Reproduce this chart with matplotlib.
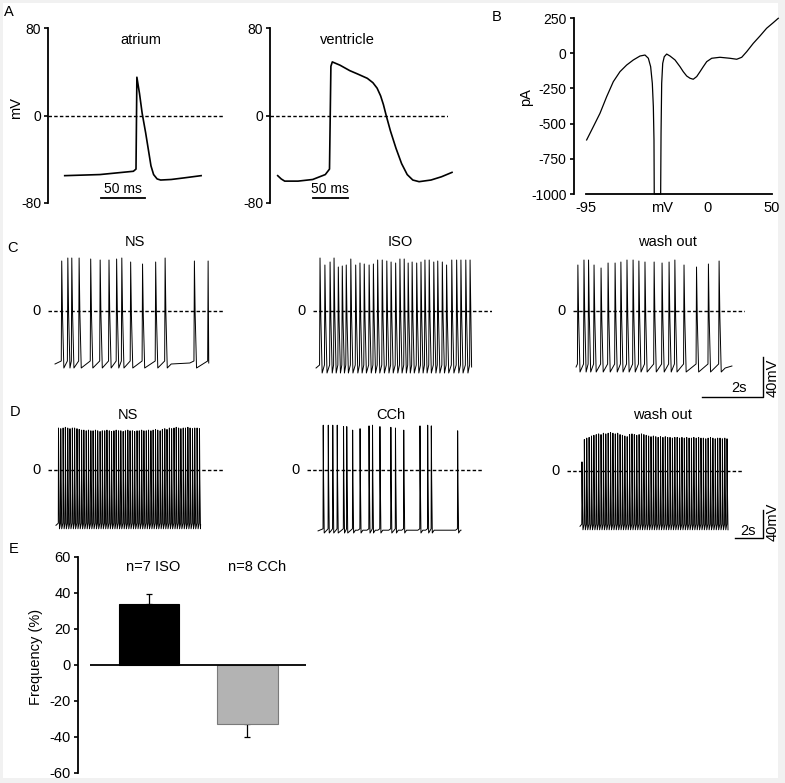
import numpy as np
import matplotlib
matplotlib.use("Agg")
import matplotlib.pyplot as plt
from matplotlib.patches import Rectangle

plt.rcParams["font.family"] = ["Liberation Sans", "DejaVu Sans"]
plt.rcParams["font.size"] = 9
plt.rcParams["axes.unicode_minus"] = False

# ---- data ----
# A: single action potentials (time in ms, voltage in mV)
atrium_t = [19, 59, 97, 100, 101, 104, 107, 111, 114, 117, 120, 124, 128, 140, 155, 174]
atrium_v = [-55, -54, -51, -49, 35, 20, 2, -16, -31, -46, -54, -58, -59, -58.5, -57, -55]
ventricle_t = [11, 16, 21, 40, 61, 79, 85, 87, 89, 100, 114, 125, 139, 147, 153,
               158, 162, 166, 172, 180, 188, 196, 204, 213, 230, 245, 260]
ventricle_v = [-55, -58, -60, -60, -58.5, -54, -49, 45, 49, 46, 41, 38, 34, 30, 25,
               18, 10, 0, -14, -30, -44, -54, -59, -60.5, -59, -56, -52]

# B: I-V relation (mV, pA)
iv_mv = [-94.5, -89.3, -84.1, -78.9, -73.7, -68.5, -63.3, -58.1, -52.9, -49.0,
         -46.4, -44.6, -43.3, -42.5, -42.0, -41.8, -36.8, -36.5, -36.0, -35.2,
         -34.0, -32.1, -29.5, -25.6, -21.7, -19.2, -16.5, -13.9, -11.4, -8.7,
         -6.1, -3.6, -0.9, 3.0, 9.4, 17.2, 22.5, 26.4, 30.3, 35.4, 40.6, 45.8,
         51.0, 54.9]
iv_pa = [-616, -522, -427, -309, -202, -131, -84, -48, -20, -13,
         -36, -96, -214, -380, -616, -1000, -1000, -569, -214, -72,
         -25, -6, -20, -48, -96, -131, -162, -178, -185, -166,
         -131, -96, -60, -36, -29, -36, -43, -29, 11, 70, 122, 177,
         217, 248]

# C: spike times (s) and peak voltages (mV)
c_ns_spikes = [0.45, 0.65, 0.78, 1.02, 1.40, 1.71, 2.00, 2.25, 2.42, 2.71,
               3.10, 3.53, 3.84, 4.80, 5.25]
c_ns_peaks = [50, 53, 53, 53, 52, 51, 51, 52, 53, 49, 47, 49, 53, 50, 50]
c_iso_spikes = [0.23, 0.39, 0.56, 0.69, 0.83, 0.96, 1.09, 1.24, 1.40, 1.54,
                1.68, 1.84, 1.98, 2.12, 2.27, 2.42, 2.56, 2.71, 2.85, 2.99,
                3.12, 3.25, 3.40, 3.54, 3.67, 3.81, 3.96, 4.09, 4.24, 4.38,
                4.55, 4.71, 4.85, 5.01, 5.15]
c_iso_peaks = [53, 46, 49, 53, 44, 45, 46, 52, 46, 48, 47, 46, 47, 51, 51, 50, 49, 48,
               52, 52, 48, 49, 48, 49, 51, 51, 49, 50, 49, 46, 51, 51, 51, 51, 51]
c_wash_spikes = [0.16, 0.36, 0.51, 0.69, 0.92, 1.15, 1.38, 1.57, 1.77, 1.97,
                 2.16, 2.36, 2.66, 2.92, 3.15, 3.34, 3.64, 4.05, 4.44, 4.79]
c_wash_peaks = [46, 51, 51, 46, 43, 48, 48, 49, 51, 51, 50, 49, 49, 48, 49, 51, 46, 44, 47, 50]

# D
d_ns_spikes = [0.75, 0.91, 1.08, 1.24, 1.41, 1.57, 1.74, 1.90, 2.07, 2.23,
               2.40, 2.56, 2.73, 2.89, 3.06, 3.22, 3.39, 3.55, 3.72, 3.88,
               4.05, 4.21, 4.38, 4.54, 4.71, 4.87, 5.04, 5.20, 5.37, 5.53,
               5.70, 5.86, 6.03, 6.19, 6.36, 6.52, 6.69, 6.85, 7.02, 7.18,
               7.35, 7.51, 7.68, 7.84, 8.01, 8.17, 8.34, 8.50, 8.67, 8.83,
               9.00, 9.16, 9.33, 9.49, 9.66, 9.82, 9.99, 10.15, 10.32, 10.48,
               10.65, 10.82]
d_ns_peaks = [60, 59, 60, 61, 60, 59, 60, 60, 59, 58,
              57, 57, 56, 57, 56, 56, 57, 56, 55, 56,
              56, 57, 56, 55, 56, 57, 56, 56, 55, 56,
              57, 56, 56, 55, 56, 56, 57, 56, 56, 57,
              56, 57, 58, 57, 56, 58, 59, 58, 60, 59,
              60, 61, 60, 59, 60, 60, 61, 60, 59, 60,
              60, 59]
d_cch_spikes = [1.16, 1.52, 1.84, 2.16, 2.61, 2.84, 3.26, 3.79, 4.43, 4.68,
                5.21, 5.99, 6.32, 6.91, 8.07, 8.62, 8.88, 10.76]
d_cch_peaks = [64, 64, 64, 64, 62, 62, 57, 59, 63, 64, 62, 61, 60, 57, 63, 64, 63, 56]
d_wash_spikes = [1.07, 1.24, 1.41, 1.58, 1.75, 1.92, 2.09, 2.26, 2.43, 2.60,
                 2.77, 2.94, 3.11, 3.28, 3.45, 3.62, 3.79, 3.96, 4.13, 4.30,
                 4.47, 4.64, 4.81, 4.98, 5.15, 5.32, 5.49, 5.66, 5.83, 6.00,
                 6.17, 6.34, 6.51, 6.68, 6.85, 7.02, 7.19, 7.36, 7.53, 7.70,
                 7.87, 8.04, 8.21, 8.38, 8.55, 8.72, 8.89, 9.06, 9.23, 9.40,
                 9.57, 9.74, 9.91, 10.08, 10.25, 10.42, 10.59, 10.76, 10.93, 11.10,
                 11.27, 11.43]
d_wash_peaks = [13, 45, 47, 48, 50, 51, 52, 53, 52, 54,
                53, 54, 55, 54, 53, 54, 52, 51, 50, 49,
                52, 53, 52, 51, 52, 53, 52, 51, 50, 49,
                50, 49, 48, 49, 48, 49, 48, 48, 47, 48,
                48, 47, 48, 47, 48, 47, 47, 48, 47, 48,
                47, 47, 46, 47, 48, 47, 46, 47, 47, 46,
                47, 46]

# E: frequency change
e_labels = ["n=7 ISO", "n=8 CCh"]
e_values = [34, -33]
e_errors = [5.5, 7]

W, H = 785, 783
fig = plt.figure(figsize=(W / 100, H / 100), dpi=100, facecolor="#f1f1f1")
fig.patches.append(Rectangle((3 / W, 5 / H), 775 / W, 775 / H, transform=fig.transFigure,
                             facecolor="white", edgecolor="none", zorder=-10))


def px_ax(x0, y0, x1, y1):
    return fig.add_axes([x0 / W, 1 - y1 / H, (x1 - x0) / W, (y1 - y0) / H])


def ftext(x, y, s, **kw):
    fig.text(x / W, 1 - y / H, s, ha=kw.pop("ha", "center"), va=kw.pop("va", "center"), **kw)


DASH = (0, (2.5, 1.6))


def spike_trace(spikes, peaks, t0, t1, trough, thresh):
    # spike shape: threshold -> peak -> fast repolarisation -> trough,
    # then slow depolarisation up to the next spike
    t = [t0]
    v = [thresh - 3]
    nxt = list(spikes[1:]) + [t1 + 1]
    for ts, pk, tn in zip(spikes, peaks, nxt):
        t += [ts - 0.015, ts, ts + 0.025, ts + 0.07]
        v += [thresh, pk, 0.5 * (pk + trough), trough]
        if tn - ts > 0.5:
            t += [ts + 0.2, tn - 0.15]
            v += [trough + 4, thresh - 2]
    t = np.array(t)
    v = np.array(v)
    keep = t <= t1
    t, v = list(t[keep]), list(v[keep])
    if t[-1] < t1:
        t.append(t1)
        v.append(thresh - 2)
    return t, v


def trace_panel(x0, x1, ytop, ybot, yz, ps, pm, tv):
    ax = px_ax(x0, ytop, x1, ybot)
    ax.set_xlim(0, (x1 - x0) / ps)
    ax.set_ylim(-(ybot - yz) / pm, (yz - ytop) / pm)
    ax.axis("off")
    ax.axhline(0, color="black", lw=1.0, ls=DASH)
    ax.plot(tv[0], tv[1], color="black", lw=0.7, clip_on=False)
    ax.annotate("0", (0, 0), xytext=(-5, 0), textcoords="offset points",
                ha="right", va="center", fontsize=10.5)
    return ax


# ---- A ----
for x0, x1, pxms, t, v, sb, title, tx in [
        (48, 225, 0.88, atrium_t, atrium_v, 60, "atrium", 141),
        (270, 448, 0.70, ventricle_t, ventricle_v, 61, "ventricle", 347)]:
    ax = px_ax(x0, 28, x1, 203)
    ax.set_xlim(0, (x1 - x0) / pxms)
    ax.set_ylim(-80, 80)
    for s in ["top", "right", "bottom"]:
        ax.spines[s].set_visible(False)
    ax.spines["left"].set_linewidth(1.3)
    ax.set_xticks([])
    ax.set_yticks([-80, 0, 80])
    ax.tick_params(axis="y", length=3, width=1.2, pad=2, labelsize=10)
    ax.axhline(0, color="black", lw=1.0, ls=DASH)
    ax.plot(t, v, color="black", lw=1.2, clip_on=False)
    ax.plot([sb, sb + 50], [-75.4, -75.4], color="black", lw=1.3)
    ax.text(sb + 25, -67.5, "50 ms", ha="center", va="center", fontsize=10)
    ftext(tx, 40, title, fontsize=10.5)

ftext(16, 108, "mV", rotation=90, fontsize=10.5)

# ---- B ----
axb = px_ax(586, 18, 772, 194)
axb.plot(iv_mv, iv_pa, color="black", lw=0.9, clip_on=False)
axb.set_xlim(-95, 50)
axb.set_ylim(-1000, 250)
for s in ["top", "right"]:
    axb.spines[s].set_visible(False)
axb.spines["left"].set_position(("outward", 9))
axb.spines["left"].set_linewidth(1.3)
axb.spines["bottom"].set_linewidth(1.3)
axb.set_yticks([250, 0, -250, -500, -750, -1000])
axb.set_xticks([-95, -36, 0, 50])
axb.set_xticklabels(["-95", "mV", "0", "50"])
axb.tick_params(axis="y", length=3, width=1.2, pad=2, labelsize=10)
axb.tick_params(axis="x", length=0, pad=5, labelsize=10.5)
ftext(526, 97, "pA", rotation=90, fontsize=10.5)

# ---- C ----
trace_panel(48, 223, 245, 385, 311, 30.5, 1.0,
            spike_trace(c_ns_spikes, c_ns_peaks, 0.23, 5.27, -57, -50))
trace_panel(313, 492, 245, 385, 311, 30.5, 1.0,
            spike_trace(c_iso_spikes, c_iso_peaks, 0.10, 5.20, -62, -54))
axc = trace_panel(573, 745, 245, 385, 311, 30.5, 1.0,
                  spike_trace(c_wash_spikes, c_wash_peaks, 0.10, 5.21, -61, -53))
axc.plot([4.23, 6.23, 6.23], [-86, -86, -46], color="black", lw=1.0, clip_on=False)
axc.text(5.44, -77, "2s", ha="center", va="center", fontsize=10.5)
axc.text(6.56, -67, "40mV", ha="center", va="center", rotation=90, fontsize=10.5)
for x, s in [(135, "NS"), (400, "ISO"), (667, "wash out")]:
    ftext(x, 242, s, fontsize=10.5)

# ---- D ----
trace_panel(48, 223, 420, 545, 470, 14, 0.7,
            spike_trace(d_ns_spikes, d_ns_peaks, 0.57, 10.9, -84, -76))
trace_panel(307, 483, 420, 545, 470, 14, 0.7,
            spike_trace(d_cch_spikes, d_cch_peaks, 0.79, 11.0, -90, -84))
axd = trace_panel(567, 742, 420, 545, 471, 14, 0.7,
                  spike_trace(d_wash_spikes, d_wash_peaks, 0.93, 11.5, -84, -76))
axd.plot([12.0, 14.0, 14.0], [-95.7, -95.7, -55.7], color="black", lw=1.0, clip_on=False)
axd.text(12.93, -85.7, "2s", ha="center", va="center", fontsize=10.5)
axd.text(14.71, -73, "40mV", ha="center", va="center", rotation=90, fontsize=10.5)
for x, s in [(128, "NS"), (391, "CCh"), (662, "wash out")]:
    ftext(x, 415, s, fontsize=10.5)

# ---- E ----
axe = px_ax(90, 557, 306, 773)
xpos = np.arange(len(e_values))
axe.bar(xpos, e_values, width=0.61, color=["black", "#b3b3b3"],
        edgecolor=["black", "#7a7a7a"], lw=0.8, zorder=2)
axe.errorbar(xpos[0], e_values[0], yerr=[[0], [e_errors[0]]], fmt="none",
             ecolor="black", elinewidth=0.9, capsize=2.5, capthick=0.9, zorder=1)
axe.errorbar(xpos[1], e_values[1], yerr=[[e_errors[1]], [0]], fmt="none",
             ecolor="black", elinewidth=0.9, capsize=2.5, capthick=0.9, zorder=1)
axe.axhline(0, color="black", lw=1.3, zorder=3)
axe.set_xlim(-0.599, 1.594)
axe.set_ylim(-60, 60)
axe.set_yticks(range(-60, 61, 20))
axe.set_xticks([])
for s in ["top", "right", "bottom"]:
    axe.spines[s].set_visible(False)
axe.spines["left"].set_position(("outward", 9))
axe.spines["left"].set_linewidth(1.3)
axe.tick_params(axis="y", length=3, width=1.2, pad=2, labelsize=10.5)
for xi, lab in zip([153, 257], e_labels):
    ftext(xi, 567, lab, fontsize=10.5)
ftext(36, 657, "Frequency (%)", rotation=90, fontsize=10.5)

# panel letters
for x, y, s in [(9, 12, "A"), (497, 17, "B"), (12, 248, "C"), (15, 412, "D"), (14, 549, "E")]:
    ftext(x, y, s, fontsize=10.5)

fig.savefig("out.png", dpi=100, facecolor=fig.get_facecolor())
